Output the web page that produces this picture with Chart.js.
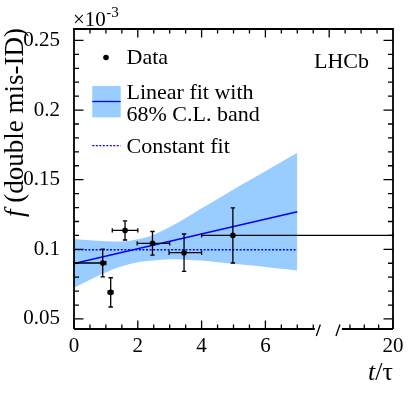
<!DOCTYPE html>
<html>
<head>
<meta charset="utf-8">
<script src="https://cdn.jsdelivr.net/npm/chart.js@4.4.0/dist/chart.umd.min.js"></script>
<style>
html, body { margin: 0; padding: 0; background: #fff; }
</style>
</head>
<body>
<canvas id="chart" width="415" height="393"></canvas>
<script>
// data points, f in units of 1e-3
const tVals = [0.90, 1.15, 1.60, 2.46, 3.45, 4.98];
const tLow = [0.00, 1.07, 1.20, 1.98, 2.98, 4.00];
const tHigh = [1.00, 1.22, 2.00, 3.00, 4.00, 20.0];
const fVals = [0.0902, 0.0691, 0.1136, 0.1043, 0.0976, 0.1100];
const fErr = [0.0100, 0.0105, 0.0069, 0.0085, 0.0134, 0.0198];

// linear fit with 68% C.L. band
const bandT = [0, 0.5, 1, 1.5, 2, 2.5, 3, 3.5, 4, 4.5, 5, 5.5, 6, 6.5, 7];
const bandHi = [0.1075, 0.1066, 0.1058, 0.1056, 0.1072, 0.1105, 0.1160, 0.1225, 0.1295, 0.1362, 0.1430, 0.1496, 0.1561, 0.1627, 0.1693];
const bandLo = [0.0725, 0.0781, 0.0834, 0.0878, 0.0908, 0.0920, 0.0928, 0.0926, 0.0919, 0.0908, 0.0897, 0.0885, 0.0873, 0.0860, 0.0848];
const linT = [0, 7];
const linF = [0.0899, 0.1270];

// constant fit
const constT = [0, 7];
const constF = [0.0997, 0.0997];

// axis ticks
const xTickVals = [0, 2, 4, 6, 20];
const xTickText = ["0", "2", "4", "6", "20"];
const xMinorVals = [0.5, 1, 1.5, 2.5, 3, 3.5, 4.5, 5, 5.5, 6.5, 7, 7.5, 17, 18, 19];
const yTickVals = [0.05, 0.1, 0.15, 0.2, 0.25];
const yTickText = ["0.05", "0.1", "0.15", "0.2", "0.25"];

// broken x axis: 0..8 as is, then squeeze up to 20
function toD(t) {
    return t <= 8 ? t : 10 - (20 - t) * 0.45;
}

const serif = '"Liberation Serif", "Times New Roman", serif';
const blue = "#0000ff";
const bandColor = "#99ccff";

const deco = {
    id: "deco",
    afterDatasetsDraw(chart) {
        const ctx = chart.ctx;
        const xs = chart.scales.x, ys = chart.scales.y;
        ctx.save();
        ctx.strokeStyle = "#000";
        ctx.lineWidth = 1.3;
        const cap = 2.2;
        tVals.forEach((t, i) => {
            const px = xs.getPixelForValue(toD(t));
            const py = ys.getPixelForValue(fVals[i]);
            const yTop = ys.getPixelForValue(fVals[i] + fErr[i]);
            const yBot = ys.getPixelForValue(fVals[i] - fErr[i]);
            const xl = xs.getPixelForValue(toD(tLow[i]));
            const xr = xs.getPixelForValue(toD(tHigh[i]));
            ctx.beginPath();
            ctx.moveTo(px, yTop); ctx.lineTo(px, yBot);
            ctx.moveTo(px - cap, yTop); ctx.lineTo(px + cap, yTop);
            ctx.moveTo(px - cap, yBot); ctx.lineTo(px + cap, yBot);
            ctx.moveTo(xl, py); ctx.lineTo(xr, py);
            ctx.moveTo(xl, py - cap); ctx.lineTo(xl, py + cap);
            ctx.moveTo(xr, py - cap); ctx.lineTo(xr, py + cap);
            ctx.stroke();
        });
        ctx.restore();
    },
    afterDraw(chart) {
        const ctx = chart.ctx;
        const xs = chart.scales.x, ys = chart.scales.y;
        const a = chart.chartArea;
        const L = a.left, R = a.right, T = a.top, B = a.bottom;
        ctx.save();
        ctx.strokeStyle = "#000";
        ctx.lineWidth = 1.8;

        // frame with the break on the bottom axis
        const b1 = xs.getPixelForValue(7.55), b2 = xs.getPixelForValue(8.4);
        ctx.beginPath();
        ctx.moveTo(L, B); ctx.lineTo(L, T); ctx.lineTo(R, T); ctx.lineTo(R, B);
        ctx.moveTo(L, B); ctx.lineTo(b1, B);
        ctx.moveTo(b2, B); ctx.lineTo(R, B);
        ctx.stroke();
        ctx.lineWidth = 1.3;
        ctx.beginPath();
        ctx.moveTo(b1 + 1.5, B + 7); ctx.lineTo(b1 + 5.5, B - 4.5);
        ctx.moveTo(b2 - 6, B + 7); ctx.lineTo(b2 - 2, B - 4.5);
        ctx.stroke();

        ctx.lineWidth = 1.3;
        ctx.beginPath();
        // bottom ticks
        xTickVals.forEach(v => {
            const p = xs.getPixelForValue(toD(v));
            ctx.moveTo(p, B); ctx.lineTo(p, B - 8.5);
        });
        xMinorVals.forEach(v => {
            const p = xs.getPixelForValue(toD(v));
            ctx.moveTo(p, B); ctx.lineTo(p, B - 4.5);
        });
        // top ticks, uniform
        for (let d = 0.5; d < 10; d += 0.5) {
            const p = xs.getPixelForValue(d);
            const len = (d % 2 === 0) ? 8.5 : 4.5;
            ctx.moveTo(p, T); ctx.lineTo(p, T + len);
        }
        // left and right ticks
        for (let k = 5; k <= 25; k++) {
            const p = ys.getPixelForValue(k / 100);
            const len = (k % 5 === 0) ? 9.5 : 5;
            ctx.moveTo(L, p); ctx.lineTo(L + len, p);
            ctx.moveTo(R, p); ctx.lineTo(R - len, p);
        }
        ctx.stroke();

        // exponent
        ctx.fillStyle = "#000";
        ctx.textBaseline = "alphabetic";
        ctx.textAlign = "left";
        ctx.font = "21px " + serif;
        ctx.fillText("\u00d710", 73, 25.5);
        const w10 = ctx.measureText("\u00d710").width;
        ctx.font = "15px " + serif;
        ctx.fillText("-3", 73 + w10 + 0.5, 16.5);

        // y title, rotated, ending at the top
        ctx.save();
        ctx.translate(23, 28);
        ctx.rotate(-Math.PI / 2);
        ctx.font = "italic 27px " + serif;
        const wf = ctx.measureText("f").width;
        ctx.font = "27px " + serif;
        const wr = ctx.measureText(" (double mis-ID)").width;
        const W = wf + wr;
        ctx.font = "italic 27px " + serif;
        ctx.fillText("f", -W, 0);
        ctx.font = "27px " + serif;
        ctx.fillText(" (double mis-ID)", -W + wf, 0);
        ctx.restore();

        // x title, right aligned
        ctx.font = "26px " + serif;
        const wTau = ctx.measureText("/\u03c4").width;
        ctx.font = "italic 26px " + serif;
        const wt = ctx.measureText("t").width;
        ctx.fillText("t", R - wTau - wt, 380);
        ctx.font = "26px " + serif;
        ctx.fillText("/\u03c4", R - wTau, 380);

        // legend
        ctx.font = "22px " + serif;
        ctx.beginPath();
        ctx.arc(106, 57.5, 2.8, 0, Math.PI * 2);
        ctx.fill();
        ctx.fillText("Data", 126.5, 64);

        ctx.fillStyle = bandColor;
        ctx.fillRect(92.3, 86, 28.4, 31.3);
        ctx.strokeStyle = blue;
        ctx.lineWidth = 1.3;
        ctx.beginPath();
        ctx.moveTo(92.3, 101.5); ctx.lineTo(120.7, 101.5);
        ctx.stroke();
        ctx.fillStyle = "#000";
        ctx.fillText("Linear fit with", 126.5, 99);
        ctx.fillText("68% C.L. band", 126.5, 120.5);

        ctx.setLineDash([2, 1.5]);
        ctx.beginPath();
        ctx.moveTo(92.3, 145.7); ctx.lineTo(120.7, 145.7);
        ctx.stroke();
        ctx.setLineDash([]);
        ctx.fillText("Constant fit", 126.5, 153.3);

        ctx.fillText("LHCb", 314, 68);
        ctx.restore();
    }
};

new Chart(document.getElementById("chart"), {
    type: "line",
    data: {
        datasets: [
            {
                data: bandT.map((t, i) => ({ x: toD(t), y: bandHi[i] })),
                order: 10,
                fill: "+1",
                backgroundColor: bandColor,
                borderColor: "transparent",
                borderWidth: 0,
                pointRadius: 0,
                cubicInterpolationMode: "monotone"
            },
            {
                data: bandT.map((t, i) => ({ x: toD(t), y: bandLo[i] })),
                order: 9,
                fill: false,
                borderColor: "transparent",
                borderWidth: 0,
                pointRadius: 0,
                cubicInterpolationMode: "monotone"
            },
            {
                data: linT.map((t, i) => ({ x: toD(t), y: linF[i] })),
                order: 3,
                fill: false,
                borderColor: blue,
                borderWidth: 1.5,
                pointRadius: 0
            },
            {
                data: constT.map((t, i) => ({ x: toD(t), y: constF[i] })),
                order: 2,
                fill: false,
                borderColor: blue,
                borderWidth: 1.6,
                borderDash: [2, 1.6],
                pointRadius: 0
            },
            {
                data: tVals.map((t, i) => ({ x: toD(t), y: fVals[i] })),
                order: 1,
                showLine: false,
                pointRadius: 2.8,
                pointBackgroundColor: "#000",
                pointBorderWidth: 0
            }
        ]
    },
    options: {
        responsive: false,
        animation: false,
        devicePixelRatio: 1,
        layout: { padding: { top: 29, right: 22, left: 0, bottom: 0 } },
        plugins: { legend: { display: false }, tooltip: { enabled: false } },
        scales: {
            x: {
                type: "linear",
                min: 0,
                max: 10,
                grid: { display: false },
                border: { display: false },
                afterBuildTicks(s) {
                    s.ticks = xTickVals.map(v => ({ value: toD(v) }));
                },
                afterFit(s) { s.height = 64; },
                ticks: {
                    autoSkip: false,
                    maxRotation: 0,
                    padding: -3,
                    color: "#000",
                    font: { family: serif, size: 21 },
                    callback(value) {
                        const i = xTickVals.findIndex(v => Math.abs(toD(v) - value) < 1e-6);
                        return i >= 0 ? xTickText[i] : "";
                    }
                }
            },
            y: {
                type: "linear",
                min: 0.0428,
                max: 0.2582,
                grid: { display: false },
                border: { display: false },
                afterBuildTicks(s) {
                    s.ticks = yTickVals.map(v => ({ value: v }));
                },
                afterFit(s) { s.width = 74; },
                ticks: {
                    autoSkip: false,
                    padding: 6,
                    color: "#000",
                    font: { family: serif, size: 21 },
                    callback(value) {
                        const i = yTickVals.findIndex(v => Math.abs(v - value) < 1e-9);
                        return i >= 0 ? yTickText[i] : "";
                    }
                }
            }
        }
    },
    plugins: [deco]
});
</script>
</body>
</html>
